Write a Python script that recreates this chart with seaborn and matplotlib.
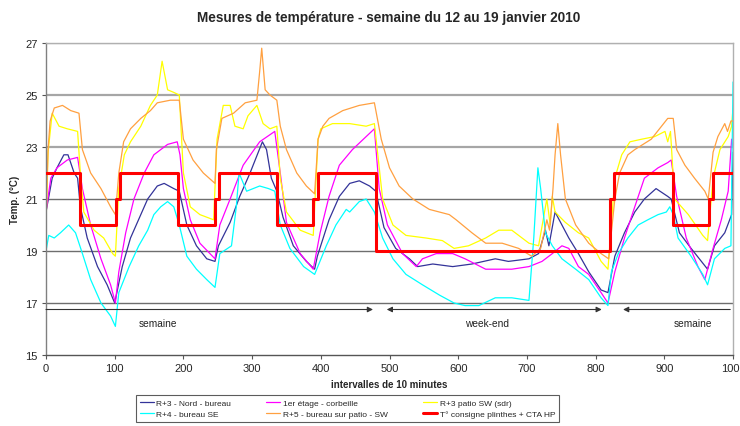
import matplotlib
matplotlib.use("Agg")
import matplotlib.pyplot as plt
import seaborn as sns
import pandas as pd

# ---------------- data ----------------
title = "Mesures de température - semaine du 12 au 19 janvier 2010"

nord_x = [0, 9, 16, 26, 32, 41, 46, 50, 60, 75, 89, 100, 111, 123, 138, 148, 162, 172, 186, 194, 205, 219, 234, 246, 251, 268, 282, 297, 309, 315, 321, 328, 336, 345, 360, 379, 391, 395, 412, 427, 442, 456, 471, 480, 492, 509, 529, 541, 563, 592, 620, 654, 673, 703, 717, 727, 732, 741, 751, 761, 775, 790, 808, 818, 828, 842, 857, 871, 888, 905, 910, 922, 939, 963, 973, 988, 998, 1000]
nord_y = [20.5, 21.8, 22.2, 22.7, 22.7, 22.0, 21.8, 20.7, 19.5, 18.4, 17.7, 17.0, 18.4, 19.5, 20.4, 21.0, 21.5, 21.6, 21.4, 21.3, 20.0, 19.2, 18.7, 18.6, 19.2, 20.1, 21.1, 22.0, 22.8, 23.2, 22.9, 21.8, 21.3, 20.3, 19.2, 18.6, 18.3, 18.8, 20.2, 21.1, 21.6, 21.7, 21.5, 21.3, 19.9, 19.1, 18.7, 18.4, 18.5, 18.4, 18.5, 18.7, 18.6, 18.7, 18.9, 19.8, 19.2, 20.5, 20.0, 19.5, 18.9, 18.2, 17.5, 17.4, 18.8, 19.7, 20.5, 21.0, 21.4, 21.1, 21.0, 19.7, 19.1, 18.3, 19.2, 19.7, 20.4, 22.8]

etage_x = [0, 7, 16, 31, 46, 53, 65, 80, 94, 101, 106, 116, 128, 143, 157, 177, 191, 195, 200, 210, 224, 246, 253, 268, 287, 311, 333, 341, 350, 370, 389, 399, 412, 427, 446, 466, 478, 485, 497, 519, 539, 548, 568, 592, 610, 640, 678, 703, 722, 737, 751, 761, 775, 790, 808, 818, 828, 842, 857, 871, 891, 905, 910, 918, 932, 949, 959, 971, 983, 993, 998, 1000]
etage_y = [20.5, 21.8, 22.2, 22.5, 22.6, 21.4, 20.0, 18.7, 17.7, 17.0, 18.2, 19.7, 21.0, 22.0, 22.7, 23.1, 23.2, 22.7, 21.4, 20.2, 19.3, 18.7, 20.0, 21.0, 22.3, 23.2, 23.6, 22.0, 20.1, 18.9, 18.3, 19.7, 21.1, 22.3, 22.9, 23.4, 23.7, 21.4, 20.0, 18.9, 18.4, 18.7, 18.9, 18.9, 18.7, 18.3, 18.3, 18.4, 18.6, 18.9, 19.2, 19.1, 18.4, 18.1, 17.4, 17.0, 18.2, 19.5, 20.7, 21.8, 22.2, 22.4, 22.5, 21.1, 19.5, 18.4, 17.9, 19.1, 20.2, 21.3, 23.3, 23.0]

patio_x = [0, 3, 9, 19, 31, 46, 50, 55, 70, 84, 97, 101, 106, 114, 123, 138, 152, 162, 169, 177, 186, 194, 200, 210, 224, 244, 249, 258, 268, 275, 287, 294, 307, 316, 326, 336, 341, 350, 370, 389, 396, 400, 417, 442, 466, 478, 483, 490, 505, 524, 553, 577, 594, 615, 640, 659, 678, 703, 717, 729, 734, 737, 741, 756, 775, 790, 808, 818, 828, 838, 850, 867, 886, 901, 905, 909, 915, 935, 956, 963, 971, 981, 993, 998, 1000]
patio_y = [20.0, 22.8, 24.3, 23.8, 23.7, 23.6, 22.0, 20.5, 19.8, 19.5, 18.9, 18.8, 21.4, 22.7, 23.2, 23.8, 24.6, 25.0, 26.3, 25.2, 25.1, 25.0, 22.0, 20.7, 20.4, 20.2, 23.3, 24.6, 24.6, 23.8, 23.7, 24.2, 24.6, 23.9, 23.7, 23.8, 21.8, 20.5, 19.8, 19.6, 23.3, 23.7, 23.9, 23.9, 23.8, 23.9, 22.7, 21.0, 20.0, 19.6, 19.5, 19.4, 19.1, 19.2, 19.5, 19.8, 19.8, 19.3, 19.2, 21.0, 20.0, 21.1, 20.5, 20.1, 19.7, 19.5, 18.6, 18.3, 21.8, 22.7, 23.2, 23.3, 23.4, 23.6, 23.2, 23.6, 21.0, 20.4, 19.6, 19.4, 21.8, 22.9, 23.4, 23.8, 24.5]

se_x = [0, 4, 12, 21, 33, 43, 53, 65, 80, 94, 101, 106, 121, 135, 148, 157, 167, 177, 186, 194, 205, 219, 234, 246, 253, 270, 277, 281, 292, 311, 324, 333, 341, 355, 375, 391, 408, 422, 437, 442, 456, 466, 478, 490, 505, 524, 548, 573, 594, 610, 630, 654, 678, 703, 710, 716, 720, 727, 737, 751, 771, 790, 808, 818, 823, 833, 847, 862, 876, 891, 903, 908, 913, 920, 939, 956, 963, 973, 988, 997, 1000]
se_y = [19.0, 19.6, 19.5, 19.7, 20.0, 19.7, 18.9, 17.9, 17.0, 16.5, 16.1, 17.4, 18.4, 19.2, 19.8, 20.4, 20.7, 20.9, 20.7, 20.0, 18.8, 18.3, 17.9, 17.6, 18.9, 19.2, 20.7, 22.0, 21.3, 21.5, 21.4, 21.3, 20.0, 19.1, 18.4, 18.1, 19.2, 20.0, 20.6, 20.5, 20.9, 21.0, 20.5, 19.5, 18.7, 18.1, 17.7, 17.3, 17.0, 16.9, 16.9, 17.2, 17.2, 17.1, 19.5, 22.2, 21.4, 19.7, 19.2, 18.7, 18.3, 17.9, 17.2, 16.9, 18.2, 18.9, 19.5, 20.0, 20.2, 20.4, 20.5, 20.7, 20.4, 19.5, 18.8, 18.1, 17.7, 18.7, 19.1, 19.2, 25.5]

r5_x = [0, 3, 6, 12, 24, 36, 48, 53, 65, 80, 94, 101, 106, 113, 123, 138, 152, 162, 181, 194, 200, 214, 229, 246, 248, 256, 273, 290, 307, 311, 314, 319, 326, 336, 341, 350, 365, 379, 391, 396, 403, 412, 432, 456, 478, 488, 500, 514, 534, 558, 587, 597, 620, 640, 664, 688, 707, 720, 729, 733, 738, 741, 745, 749, 756, 771, 790, 808, 819, 828, 835, 847, 857, 869, 881, 893, 905, 913, 918, 930, 944, 959, 964, 971, 978, 988, 992, 997, 1000]
r5_y = [20.3, 22.9, 24.0, 24.5, 24.6, 24.4, 24.3, 22.9, 22.0, 21.4, 20.7, 20.4, 22.0, 23.2, 23.7, 24.1, 24.4, 24.7, 24.8, 24.8, 23.3, 22.5, 22.0, 21.6, 22.9, 24.1, 24.3, 24.7, 24.8, 25.9, 26.8, 25.2, 25.0, 24.8, 23.8, 22.9, 22.0, 21.5, 21.2, 23.3, 23.8, 24.1, 24.4, 24.6, 24.7, 23.3, 22.2, 21.5, 21.0, 20.6, 20.4, 20.2, 19.7, 19.3, 19.3, 19.1, 18.8, 19.1, 20.2, 19.8, 21.4, 22.7, 23.9, 22.7, 21.0, 20.0, 19.3, 18.9, 18.7, 21.0, 22.0, 22.7, 22.9, 23.1, 23.3, 23.7, 24.1, 24.1, 22.9, 22.3, 21.8, 21.3, 21.0, 22.8, 23.4, 23.9, 23.6, 24.0, 24.0]

consigne_x = [0, 50, 102, 108, 192, 246, 252, 336, 389, 396, 480, 821, 827, 913, 965, 971, 1000]
consigne_y = [22, 20, 21, 22, 20, 21, 22, 20, 21, 22, 19, 21, 22, 20, 21, 22, 22]

labels = ["R+3 - Nord - bureau", "1er étage - corbeille", "R+3 patio SW (sdr)",
          "R+4 - bureau SE", "R+5 - bureau sur patio - SW", "T° consigne plinthes + CTA HP"]
colors = ["#333399", "#FF00FF", "#FFFF00", "#00FFFF", "#FFA040", "#FF0000"]

periods = ["semaine", "week-end", "semaine"]
period_start = [0, 496, 840]
period_end = [476, 809, 996]
period_label_x = [163, 642, 942]

x_ticks = list(range(0, 1001, 100))
y_ticks = list(range(15, 28, 2))

# ---------------- figure ----------------
sns.set_style("white")
plt.rcParams['font.family'] = ['Liberation Sans', 'DejaVu Sans']

fig = plt.figure(figsize=(7.40, 4.27), dpi=100)
ax = fig.add_axes([46 / 740, 1 - 356 / 427, 687 / 740, 312 / 427])

# grid lines
for yv in y_ticks[1:]:
    if yv >= 23:
        ax.axhline(yv, color="#a6a6a6", lw=1.6, zorder=0)
    else:
        ax.axhline(yv, color="#6e6e6e", lw=1.0, zorder=0)

series = [(nord_x, nord_y), (etage_x, etage_y), (patio_x, patio_y),
          (se_x, se_y), (r5_x, r5_y)]
for (xs, ys), lab, col in zip(series, labels[:5], colors[:5]):
    df = pd.DataFrame({"x": xs, "y": ys})
    sns.lineplot(data=df, x="x", y="y", ax=ax, color=col, lw=0.9,
                 estimator=None, sort=False, label=lab, legend=False)

df_c = pd.DataFrame({"x": consigne_x, "y": consigne_y})
sns.lineplot(data=df_c, x="x", y="y", ax=ax, color=colors[5], lw=2.2,
             estimator=None, sort=False, drawstyle="steps-post",
             label=labels[5], legend=False, zorder=5)

# period arrows
arrow_y = 16.75
ax.annotate("", xy=(period_end[0], arrow_y), xytext=(period_start[0], arrow_y),
            arrowprops=dict(arrowstyle="-|>", color="#333333", lw=0.8,
                            mutation_scale=8, shrinkA=0, shrinkB=0))
ax.annotate("", xy=(period_end[1], arrow_y), xytext=(period_start[1], arrow_y),
            arrowprops=dict(arrowstyle="<|-|>", color="#333333", lw=0.8,
                            mutation_scale=8, shrinkA=0, shrinkB=0))
ax.annotate("", xy=(period_start[2], arrow_y), xytext=(period_end[2], arrow_y),
            arrowprops=dict(arrowstyle="-|>", color="#333333", lw=0.8,
                            mutation_scale=8, shrinkA=0, shrinkB=0))
for name, px in zip(periods, period_label_x):
    ax.text(px, 16.23, name, ha="center", va="center", fontsize=7.3, color="#222222")

ax.set_xlim(0, 1000)
ax.set_ylim(15, 27)
ax.set_xticks(x_ticks)
ax.set_yticks(y_ticks)
ax.tick_params(axis="both", labelsize=8, length=3, width=0.8, color="#555555",
               direction="out", pad=3, bottom=True, left=True)
ax.set_xlabel("intervalles de 10 minutes", fontsize=7.0, fontweight="bold", labelpad=4)
ax.set_ylabel("Temp. (°C)", fontsize=7.0, fontweight="bold", labelpad=4)

for side in ["top", "right"]:
    ax.spines[side].set_color("#b0b0b0")
    ax.spines[side].set_linewidth(1.0)
ax.spines["left"].set_color("#808080")
ax.spines["bottom"].set_color("#555555")
ax.spines["left"].set_linewidth(1.0)
ax.spines["bottom"].set_linewidth(1.0)

fig.text(389 / 740, 1 - 18 / 427, title, ha="center", va="center",
         fontsize=9.8, fontweight="bold")

h, l = ax.get_legend_handles_labels()
order = [0, 3, 1, 4, 2, 5]
leg = fig.legend([h[i] for i in order], [l[i] for i in order],
                 loc="upper left", bbox_to_anchor=(136 / 740, 1 - 396 / 427),
                 ncol=3, fontsize=6, frameon=True, fancybox=False,
                 edgecolor="#333333", handlelength=1.7, handletextpad=0.3,
                 columnspacing=4.2, borderpad=0.45, labelspacing=0.45,
                 borderaxespad=0)
leg.get_frame().set_linewidth(0.8)

fig.savefig("out.png", dpi=100)
